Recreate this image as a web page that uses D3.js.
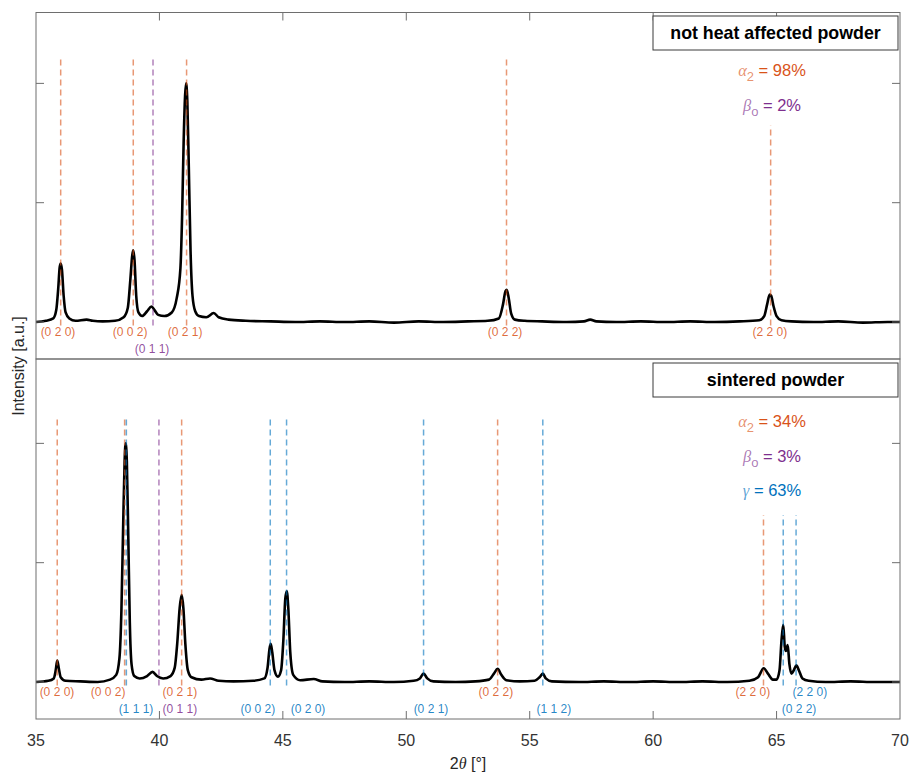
<!DOCTYPE html>
<html>
<head>
<meta charset="utf-8">
<script src="https://cdn.jsdelivr.net/npm/d3@7/dist/d3.min.js"></script>
<style>
  body { margin: 0; background: #fff; }
  svg { font-family: 'Liberation Sans', Arial, sans-serif; }
  .tick-label { font-size: 16px; fill: #333; }
  .axis-title { font-size: 16px; fill: #262626; }
  .hkl { font-size: 12px; }
  .panel-title { font-size: 17.8px; font-weight: bold; fill: #000; }
  .phase { font-size: 16.5px; }
  .greek { font-family: 'Liberation Serif', 'DejaVu Serif', serif; font-style: italic; }
</style>
</head>
<body>
<div id="chart"></div>
<script>
// ---- data ----
const xTicks = [35, 40, 45, 50, 55, 60, 65, 70];
const yTicks = [0, 1, 2];
const panelTitles = ['not heat affected powder', 'sintered powder'];

// [2theta, intensity a.u.]
const heatAffectedScan = [
  [35.0, 0.0], [35.4, 0.01], [35.7, 0.03], [35.82, 0.1], [35.9, 0.28], [35.96, 0.46], [36.0, 0.49],
  [36.05, 0.44], [36.12, 0.22], [36.2, 0.08], [36.35, 0.03], [36.6, 0.01], [37.05, 0.02], [37.3, 0.01],
  [37.7, 0.005], [38.2, 0.01], [38.55, 0.04], [38.72, 0.12], [38.82, 0.35], [38.9, 0.56], [38.94, 0.6],
  [38.99, 0.52], [39.06, 0.22], [39.15, 0.08], [39.3, 0.05], [39.5, 0.09], [39.68, 0.13], [39.8, 0.1],
  [39.95, 0.06], [40.2, 0.05], [40.5, 0.08], [40.7, 0.2], [40.85, 0.45], [40.92, 0.9], [40.98, 1.5],
  [41.04, 1.9], [41.08, 2.0], [41.13, 1.85], [41.19, 1.3], [41.26, 0.6], [41.34, 0.22], [41.45, 0.09],
  [41.6, 0.05], [41.9, 0.04], [42.2, 0.075], [42.4, 0.04], [42.8, 0.02], [43.5, 0.01], [44.5, 0.005],
  [45.5, 0.0], [46.5, 0.005], [47.5, 0.0], [48.5, 0.005], [49.5, -0.005], [50.5, 0.005], [51.5, 0.0],
  [52.5, 0.005], [53.3, 0.01], [53.75, 0.03], [53.92, 0.15], [54.02, 0.26], [54.07, 0.27], [54.15, 0.2],
  [54.25, 0.07], [54.4, 0.02], [54.8, 0.01], [55.5, 0.005], [56.5, 0.0], [57.2, 0.005], [57.45, 0.02],
  [57.7, 0.005], [58.5, 0.0], [59.5, 0.005], [60.5, 0.0], [61.5, 0.005], [62.5, 0.0], [63.5, 0.005],
  [64.3, 0.015], [64.5, 0.05], [64.62, 0.15], [64.72, 0.23], [64.78, 0.22], [64.88, 0.13], [65.0, 0.05],
  [65.2, 0.015], [65.6, 0.005], [66.5, 0.0], [67.5, 0.005], [68.5, -0.005], [69.5, 0.0], [70.0, 0.0]
];

const sinteredScan = [
  [35.0, 0.0], [35.5, 0.01], [35.72, 0.03], [35.8, 0.1], [35.86, 0.18], [35.92, 0.12], [36.0, 0.04],
  [36.2, 0.01], [36.8, 0.005], [37.5, 0.0], [38.0, 0.02], [38.25, 0.06], [38.38, 0.2], [38.46, 0.6],
  [38.53, 1.3], [38.59, 1.85], [38.63, 2.0], [38.68, 1.85], [38.74, 1.2], [38.8, 0.5], [38.87, 0.15],
  [38.98, 0.05], [39.2, 0.03], [39.5, 0.05], [39.72, 0.085], [39.9, 0.05], [40.15, 0.03], [40.45, 0.05],
  [40.62, 0.12], [40.72, 0.32], [40.82, 0.62], [40.9, 0.73], [40.97, 0.62], [41.05, 0.32], [41.15, 0.1],
  [41.3, 0.04], [41.7, 0.02], [42.05, 0.03], [42.4, 0.01], [43.0, 0.005], [43.8, 0.01], [44.25, 0.03],
  [44.38, 0.12], [44.46, 0.28], [44.51, 0.32], [44.57, 0.25], [44.66, 0.1], [44.8, 0.045], [44.93, 0.1],
  [45.02, 0.35], [45.1, 0.7], [45.16, 0.76], [45.22, 0.62], [45.3, 0.25], [45.42, 0.06], [45.7, 0.015],
  [46.25, 0.025], [46.6, 0.005], [47.5, 0.0], [48.5, 0.005], [49.5, 0.0], [50.3, 0.01], [50.55, 0.03],
  [50.7, 0.07], [50.85, 0.03], [51.1, 0.005], [52.0, 0.0], [52.8, 0.005], [53.35, 0.02], [53.55, 0.07],
  [53.7, 0.11], [53.85, 0.06], [54.05, 0.015], [54.6, 0.005], [55.2, 0.01], [55.4, 0.04], [55.53, 0.07],
  [55.65, 0.03], [55.9, 0.005], [57.0, 0.0], [58.0, 0.005], [59.0, 0.0], [60.0, 0.005], [61.0, 0.0],
  [62.0, 0.005], [63.0, 0.0], [63.9, 0.01], [64.25, 0.04], [64.48, 0.115], [64.65, 0.07], [64.85, 0.02],
  [65.0, 0.02], [65.12, 0.1], [65.2, 0.35], [65.27, 0.48], [65.33, 0.3], [65.38, 0.26], [65.45, 0.31],
  [65.52, 0.15], [65.6, 0.07], [65.7, 0.1], [65.8, 0.14], [65.9, 0.1], [66.05, 0.03], [66.3, 0.01],
  [67.0, 0.0], [68.0, 0.005], [69.0, 0.0], [70.0, 0.0]
];

// reference reflections: phase, line position, line top, hkl, label position, label row
const heatAffectedRefs = [
  { phase: 'a', pos: 36.0, top: 2.2, hkl: '(0 2 0)', at: 35.89, row: 1 },
  { phase: 'a', pos: 38.94, top: 2.2, hkl: '(0 0 2)', at: 38.81, row: 1 },
  { phase: 'b', pos: 39.74, top: 2.2, hkl: '(0 1 1)', at: 39.70, row: 2 },
  { phase: 'a', pos: 41.10, top: 2.2, hkl: '(0 2 1)', at: 41.04, row: 1 },
  { phase: 'a', pos: 54.06, top: 2.2, hkl: '(0 2 2)', at: 54.0, row: 1 },
  { phase: 'a', pos: 64.76, top: 1.65, hkl: '(2 2 0)', at: 64.73, row: 1 }
];

const sinteredRefs = [
  { phase: 'a', pos: 35.86, top: 2.2, hkl: '(0 2 0)', at: 35.85, row: 1 },
  { phase: 'a', pos: 38.59, top: 2.2, hkl: '(0 0 2)', at: 37.92, row: 1 },
  { phase: 'g', pos: 38.66, top: 2.2, hkl: '(1 1 1)', at: 39.05, row: 2 },
  { phase: 'b', pos: 39.98, top: 2.2, hkl: '(0 1 1)', at: 40.83, row: 2 },
  { phase: 'a', pos: 40.90, top: 2.2, hkl: '(0 2 1)', at: 40.83, row: 1 },
  { phase: 'g', pos: 44.49, top: 2.2, hkl: '(0 0 2)', at: 43.99, row: 2 },
  { phase: 'g', pos: 45.15, top: 2.2, hkl: '(0 2 0)', at: 46.02, row: 2 },
  { phase: 'g', pos: 50.70, top: 2.2, hkl: '(0 2 1)', at: 51.0, row: 2 },
  { phase: 'a', pos: 53.70, top: 2.2, hkl: '(0 2 2)', at: 53.63, row: 1 },
  { phase: 'g', pos: 55.53, top: 2.2, hkl: '(1 1 2)', at: 55.98, row: 2 },
  { phase: 'a', pos: 64.47, top: 1.4, hkl: '(2 2 0)', at: 64.04, row: 1 },
  { phase: 'g', pos: 65.27, top: 1.4, hkl: '(0 2 2)', at: 65.91, row: 2 },
  { phase: 'g', pos: 65.79, top: 1.4, hkl: '(2 2 0)', at: 66.35, row: 1 }
];

const heatAffectedPhases = [{ phase: 'a', value: 98 }, { phase: 'b', value: 2 }];
const sinteredPhases = [{ phase: 'a', value: 34 }, { phase: 'b', value: 3 }, { phase: 'g', value: 63 }];

const phaseColors = { a: '#D95319', b: '#7E2F8E', g: '#0072BD' };
const phaseSymbols = { a: ['\u03B1', '2'], b: ['\u03B2', 'o'], g: ['\u03B3', ''] };

class XrdPanel {
  /**
   * one stacked diffractogram panel sharing the x scale
   */
  constructor(_config, _scan, _refs, _phases, _title) {
    this.config = {
      svg: _config.svg,
      xScale: _config.xScale,
      top: _config.top,
      height: _config.height,
      yMax: _config.yMax,
      topTicks: _config.topTicks || false,
      bottomTicks: _config.bottomTicks || false,
      titleY: _config.titleY,
      phaseY: _config.phaseY
    };
    this.scan = _scan;
    this.refs = _refs;
    this.phases = _phases;
    this.title = _title;

    this.initVis();
    this.renderVis();
  }

  initVis() {
    let vis = this;
    const x = vis.config.xScale;
    vis.left = x.range()[0];
    vis.right = x.range()[1];
    vis.bottom = vis.config.top + vis.config.height;

    vis.yScale = d3.scaleLinear()
      .domain([-0.31, vis.config.yMax])
      .range([vis.bottom, vis.config.top]);

    vis.g = vis.config.svg.append('g');
  }

  renderVis() {
    let vis = this;
    const x = vis.config.xScale;
    const y = vis.yScale;
    const axisColor = '#6e6e6e';

    // measured pattern
    const line = d3.line()
      .x(d => x(d[0]))
      .y(d => y(d[1]))
      .curve(d3.curveMonotoneX);

    vis.g.append('path')
      .datum(vis.scan)
      .attr('fill', 'none')
      .attr('stroke', '#000')
      .attr('stroke-width', 2.6)
      .attr('stroke-linejoin', 'round')
      .attr('d', line);

    // reference reflection markers, drawn over the pattern
    vis.g.selectAll('.ref-line')
      .data(vis.refs)
      .join('line')
      .attr('class', 'ref-line')
      .attr('x1', d => x(d.pos))
      .attr('x2', d => x(d.pos))
      .attr('y1', y(-0.03))
      .attr('y2', d => y(d.top))
      .attr('stroke', d => phaseColors[d.phase])
      .attr('stroke-opacity', 0.6)
      .attr('stroke-width', 1.5)
      .attr('stroke-dasharray', '6,4');

    vis.g.selectAll('.hkl')
      .data(vis.refs)
      .join('text')
      .attr('class', 'hkl')
      .attr('x', d => x(d.at))
      .attr('y', d => y(0) + (d.row === 1 ? 14 : 31))
      .attr('text-anchor', 'middle')
      .attr('fill', d => phaseColors[d.phase])
      .attr('fill-opacity', 0.85)
      .text(d => d.hkl);

    // box
    vis.g.append('rect')
      .attr('x', vis.left)
      .attr('y', vis.config.top)
      .attr('width', vis.right - vis.left)
      .attr('height', vis.config.height)
      .attr('fill', 'none')
      .attr('stroke', axisColor)
      .attr('stroke-width', 1);

    // y ticks, both sides, no labels
    yTicks.forEach(t => {
      vis.g.append('line')
        .attr('x1', vis.left).attr('x2', vis.left + 8)
        .attr('y1', y(t)).attr('y2', y(t))
        .attr('stroke', axisColor);
      vis.g.append('line')
        .attr('x1', vis.right - 8).attr('x2', vis.right)
        .attr('y1', y(t)).attr('y2', y(t))
        .attr('stroke', axisColor);
    });

    if (vis.config.topTicks) {
      vis.g.selectAll('.xtick-top')
        .data(xTicks.slice(1, -1))
        .join('line')
        .attr('class', 'xtick-top')
        .attr('x1', d => x(d)).attr('x2', d => x(d))
        .attr('y1', vis.config.top).attr('y2', vis.config.top + 8)
        .attr('stroke', axisColor);
    }

    if (vis.config.bottomTicks) {
      vis.g.selectAll('.xtick-bottom')
        .data(xTicks.slice(1, -1))
        .join('line')
        .attr('class', 'xtick-bottom')
        .attr('x1', d => x(d)).attr('x2', d => x(d))
        .attr('y1', vis.bottom).attr('y2', vis.bottom - 8)
        .attr('stroke', axisColor);

      vis.g.selectAll('.tick-label')
        .data(xTicks)
        .join('text')
        .attr('class', 'tick-label')
        .attr('x', d => x(d))
        .attr('y', vis.bottom + 27)
        .attr('text-anchor', 'middle')
        .text(d => d);
    }

    // title box
    const boxW = 245, boxH = 34;
    const boxX = vis.right - 2 - boxW;
    vis.g.append('rect')
      .attr('x', boxX)
      .attr('y', vis.config.titleY)
      .attr('width', boxW)
      .attr('height', boxH)
      .attr('fill', '#fff')
      .attr('stroke', '#3a3a3a')
      .attr('stroke-width', 1);

    vis.g.append('text')
      .attr('class', 'panel-title')
      .attr('x', boxX + boxW / 2)
      .attr('y', vis.config.titleY + boxH / 2 + 6)
      .attr('text-anchor', 'middle')
      .text(vis.title);

    // phase fractions
    const phaseText = vis.g.selectAll('.phase')
      .data(vis.phases)
      .join('text')
      .attr('class', 'phase')
      .attr('x', 772)
      .attr('y', (d, i) => vis.config.phaseY + i * 34.5)
      .attr('text-anchor', 'middle')
      .attr('fill', d => phaseColors[d.phase]);

    phaseText.append('tspan')
      .attr('class', 'greek')
      .attr('fill-opacity', 0.65)
      .text(d => phaseSymbols[d.phase][0]);
    phaseText.append('tspan')
      .attr('fill-opacity', 0.65)
      .attr('font-size', 13)
      .attr('dy', d => phaseSymbols[d.phase][1] ? 5 : 0)
      .text(d => phaseSymbols[d.phase][1]);
    phaseText.append('tspan')
      .attr('dy', d => phaseSymbols[d.phase][1] ? -5 : 0)
      .text(d => ` = ${d.value}%`);
  }
}

const svg = d3.select('#chart')
  .append('svg')
  .attr('width', 912)
  .attr('height', 773);

const xScale = d3.scaleLinear()
  .domain([35, 70])
  .range([36, 900]);

new XrdPanel({
  svg, xScale, top: 12.5, height: 346.5, yMax: 2.594,
  topTicks: true, titleY: 16, phaseY: 76
}, heatAffectedScan, heatAffectedRefs, heatAffectedPhases, panelTitles[0]);

new XrdPanel({
  svg, xScale, top: 359, height: 360, yMax: 2.707,
  bottomTicks: true, titleY: 363, phaseY: 427
}, sinteredScan, sinteredRefs, sinteredPhases, panelTitles[1]);

// axis titles
svg.append('text')
  .attr('class', 'axis-title')
  .attr('transform', 'translate(24,366) rotate(-90)')
  .attr('text-anchor', 'middle')
  .text('Intensity [a.u.]');

const xTitle = svg.append('text')
  .attr('class', 'axis-title')
  .attr('x', 468)
  .attr('y', 769)
  .attr('text-anchor', 'middle');
xTitle.append('tspan').text('2');
xTitle.append('tspan').attr('class', 'greek').text('\u03B8');
xTitle.append('tspan').text(' [\u00B0]');
</script>
</body>
</html>
